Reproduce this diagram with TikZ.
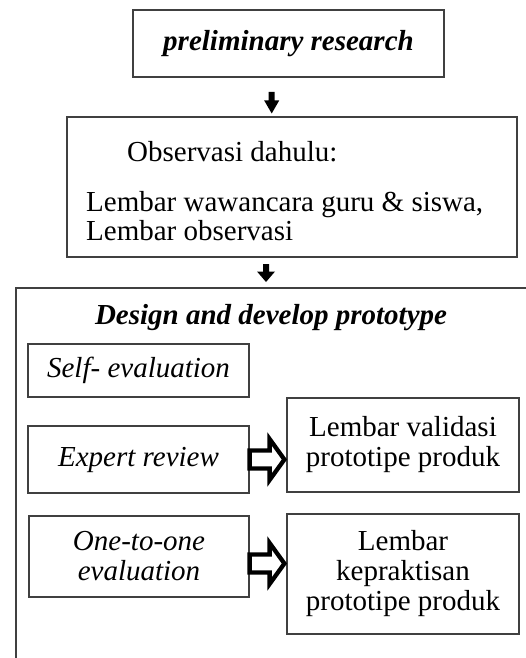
\documentclass[tikz,border=0pt]{standalone}
\usepackage{fontspec}
\setmainfont{Liberation Serif}
\usetikzlibrary{calc}
\begin{document}
\begin{tikzpicture}[x=1pt,y=-1pt,
  box/.style={draw=black!75,line width=1.2pt,rectangle,inner sep=0pt,align=center,font=\fontsize{29}{30}\selectfont},
  itbox/.style={box,font=\fontsize{29}{30}\selectfont\itshape},
  bibox/.style={box,font=\fontsize{29}{30}\selectfont\bfseries\itshape},
  txt/.style={inner sep=0pt,font=\fontsize{29}{30}\selectfont},
  frame/.style={draw=black!75,line width=1.2pt},
  blockarrow/.style={draw=black,fill=white,line width=4.3pt,line join=miter},
  downarrow/.style={fill=black}]
\useasboundingbox (0,0) rectangle (526,658);
% top boxes
\node[bibox,minimum width=311pt,minimum height=67pt] (prelim) at (288.5,43.5) {preliminary research};
\node[box,minimum width=450pt,minimum height=140pt] (obs) at (292,187) {};
\node[txt,anchor=base west] (obs1) at (127,161) {Observasi dahulu:};
\node[txt,anchor=base west] (obs2) at (86,211) {Lembar wawancara guru \& siswa,};
\node[txt,anchor=base west] (obs3) at (86,240.5) {Lembar observasi};
% down arrows
\coordinate (d1) at (271.7,92);
\fill[downarrow] ($(d1)+(-3,0)$) -- ++(6,0) -- ++(0,8.5) -- ++(4.5,0) -- ($(d1)+(0,21.5)$) -- ($(d1)+(-7.5,8.5)$) -- ++(4.5,0) -- cycle;
\coordinate (d2) at (266,264);
\fill[downarrow] ($(d2)+(-3,0)$) -- ++(6,0) -- ++(0,7.5) -- ++(6,0) -- ($(d2)+(0,18)$) -- ($(d2)+(-9,7.5)$) -- ++(6,0) -- cycle;
% outer frame (only left and top edges visible)
\coordinate (frameBL) at (16,662);
\coordinate (frameTL) at (16,288);
\coordinate (frameTR) at (530,288);
\draw[frame] (frameBL) -- (frameTL) -- (frameTR);
\node[txt,anchor=base,font=\fontsize{29}{30}\selectfont\bfseries\itshape] (title) at (271,324) {Design and develop prototype};
% inner boxes
\node[itbox,minimum width=221pt,minimum height=53pt] (self) at (138.5,370.5) {Self- evaluation};
\node[itbox,minimum width=221pt,minimum height=67pt] (exp) at (138.5,459.5) {Expert review};
\node[itbox,minimum width=220pt,minimum height=81pt] (one) at (139,556.5) {One-to-one\\evaluation};
\node[box,minimum width=232pt,minimum height=94pt] (val) at (403,445) {Lembar validasi\\prototipe produk};
\node[box,minimum width=232pt,minimum height=120pt] (prak) at (403,574) {Lembar\\kepraktisan\\prototipe produk};
% block arrows
\coordinate (a1) at (exp.east);
\draw[blockarrow] ($(a1)+(0,-9)$) -- ++(20,0) -- ++(0,-11.5) -- ($(a1 -| val.west)+(-2,0)$) -- ($(a1)+(20,20.5)$) -- ++(0,-11.5) -- ($(a1)+(0,9)$) -- cycle;
\coordinate (a2) at ($(one.east)+(0,7)$);
\draw[blockarrow] ($(a2)+(0,-9)$) -- ++(20,0) -- ++(0,-11.5) -- ($(a2 -| prak.west)+(-2,0)$) -- ($(a2)+(20,20.5)$) -- ++(0,-11.5) -- ($(a2)+(0,9)$) -- cycle;
\end{tikzpicture}
\end{document}
